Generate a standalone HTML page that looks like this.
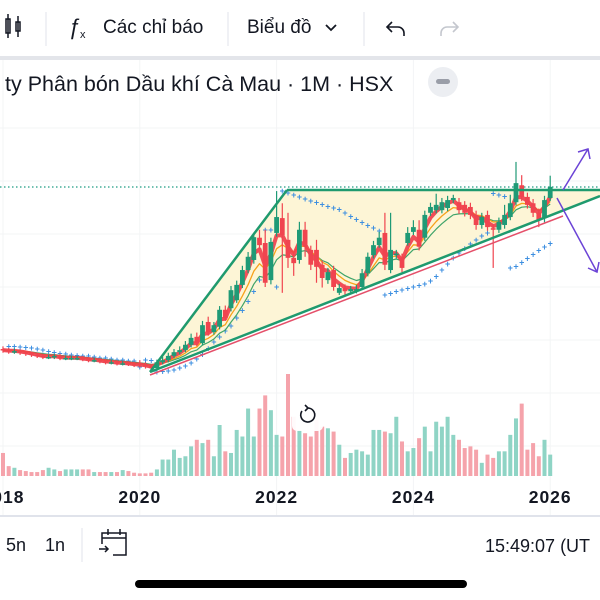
<!DOCTYPE html>
<html><head><meta charset="utf-8">
<style>
html,body{margin:0;padding:0;background:#fff;width:600px;height:600px;overflow:hidden}
svg{display:block}
text{font-family:"Liberation Sans",sans-serif}
</style></head>
<body>
<svg id="chart" width="600" height="600" viewBox="0 0 600 600">
<g id="grid"></g>
<polygon points="150,370 287,190 600,190 600,197" fill="#fdf5d6"/>
<line x1="0" y1="187" x2="600" y2="187" stroke="#1e9c82" stroke-width="1.2" stroke-dasharray="1.5,2.5"/>
<g id="vol"></g>
<g id="sar"></g>
<g id="ma"></g>
<g id="candles"></g>
<line x1="150" y1="375" x2="563" y2="216" stroke="#e5506a" stroke-width="1.5"/>
<line x1="150" y1="372" x2="287" y2="190" stroke="#1f9a6e" stroke-width="2.5"/>
<line x1="287" y1="190" x2="600" y2="190" stroke="#1f9a6e" stroke-width="2.5"/>
<line x1="150" y1="372" x2="600" y2="196" stroke="#1f9a6e" stroke-width="2.5"/>
<g stroke="#6b43d6" stroke-width="1.5" fill="none">
<line x1="563" y1="190" x2="588" y2="149"/><polyline points="578,152 588,149 590,159"/></g>
<g stroke="#6b43d6" stroke-width="1.5" fill="none">
<line x1="557" y1="198" x2="597" y2="272"/><polyline points="588,268 597,272 599,262"/></g>
<g>
<rect x="292" y="400" width="31" height="31" rx="5" fill="#fff" opacity="0.95"/>
<path d="M302 411 A7 7 0 1 0 308 408" fill="none" stroke="#131722" stroke-width="1.6"/>
<polyline points="305,405 308,408 305,411" fill="none" stroke="#131722" stroke-width="1.6"/></g>
<g id="xaxis"></g>
<line x1="0" y1="516" x2="600" y2="516" stroke="#e0e3eb" stroke-width="2"/>
<rect x="0" y="0" width="600" height="56" fill="#fff"/>
<rect x="0" y="56" width="600" height="4" fill="#e3e5ea"/>
<g stroke="#131722" stroke-width="1.5" fill="none">
<rect x="6" y="19" width="4" height="14"/><line x1="8" y1="14" x2="8" y2="38"/>
<rect x="16" y="22" width="4" height="9"/><line x1="18" y1="16" x2="18" y2="37"/></g>
<line x1="46" y1="12" x2="46" y2="46" stroke="#e0e3eb"/>
<g>
<text x="68" y="34" font-size="22" font-style="italic" fill="#131722" font-family="Liberation Serif, serif">ƒ</text>
<text x="80" y="38" font-size="11" fill="#131722">x</text>
<text x="103" y="33" font-size="19" fill="#131722">Các chỉ báo</text></g>
<line x1="228" y1="12" x2="228" y2="46" stroke="#e0e3eb"/>
<g>
<text x="247" y="33" font-size="19" fill="#131722">Biểu đồ</text>
<polyline points="326,25 331,30 336,25" fill="none" stroke="#131722" stroke-width="1.8"/></g>
<line x1="364" y1="12" x2="364" y2="46" stroke="#e0e3eb"/>
<g fill="none" stroke="#131722" stroke-width="1.6">
<path d="M388 27 H398 A6 6 0 0 1 404 33 V36"/><polyline points="392,22 387,27 392,32"/></g>
<g fill="none" stroke="#c4c7ce" stroke-width="1.6">
<path d="M457 27 H447 A6 6 0 0 0 441 33 V36"/><polyline points="453,22 458,27 453,32"/></g>
<text x="5" y="91" font-size="21.5" fill="#131722">ty Phân bón Dầu khí Cà Mau · 1M · HSX</text>
<g>
<circle cx="443" cy="82" r="15" fill="#eceef2"/><rect x="436" y="79" width="14" height="5" rx="2.5" fill="#9a9ea8"/></g>
<text x="6" y="551" font-size="18" fill="#131722">5n</text>
<text x="45" y="551" font-size="18" fill="#131722">1n</text>
<line x1="82" y1="528" x2="82" y2="562" stroke="#e0e3eb"/>
<g fill="none" stroke="#131722" stroke-width="1.5">
<path d="M102 544 V533 H126 V555 H113"/><line x1="102" y1="538" x2="126" y2="538"/>
<line x1="108" y1="529" x2="108" y2="535"/><line x1="120" y1="529" x2="120" y2="535"/>
<line x1="99" y1="549" x2="108" y2="549"/><polyline points="105,546 108,549 105,552"/></g>
<text x="485" y="552" font-size="18" fill="#131722">15:49:07 (UT</text>
<rect x="135" y="580" width="332" height="8" rx="4" fill="#000"/>
</svg>
<script>
const yearLabels = ['2018','2020','2022','2024','2026'];
const yearMonths = [0,24,48,72,96];
const priceTicks = [0,10,20,30,40,50,60];
const opens = [18.3,18.1,17.9,17.9,17.7,17.5,17.2,17.0,16.8,16.8,17.0,16.6,
16.6,16.6,16.6,16.4,16.2,16.2,16.0,15.8,15.8,15.6,15.6,15.5,
15.7,15.3,15.1,14.7,15.8,16.2,17.0,17.7,18.1,19.1,20.6,19.4,
23.4,21.5,22.5,25.7,26.0,27.5,30.4,33.2,35.1,39.3,38.3,31.3,
40.2,43.0,38.9,35.5,35.1,40.8,37.0,37.0,34.2,31.3,33.2,28.9,
29.8,29.2,29.4,30.0,32.6,36.0,37.9,40.2,33.2,36.0,35.5,38.3,
40.4,40.8,39.3,44.0,44.5,44.5,44.9,46.4,46.0,45.5,45.1,43.6,
41.7,43.6,41.1,40.8,41.7,43.2,46.0,49.2,47.0,45.8,44.0,43.0,
46.8];
const closes = [18.1,17.9,17.9,17.7,17.5,17.2,17.0,16.8,16.8,17.0,16.6,16.6,
16.6,16.6,16.4,16.2,16.2,16.0,15.8,15.8,15.6,15.6,15.5,15.3,
15.3,15.1,14.7,15.8,16.2,17.0,17.7,18.1,19.1,20.4,19.4,22.8,
21.5,22.8,25.7,24.2,29.4,30.4,33.2,35.7,39.4,37.9,30.8,38.5,
43.2,39.8,35.5,34.5,40.8,37.6,34.2,33.8,31.7,32.8,30.0,29.8,
29.2,29.6,29.6,32.6,35.7,37.9,39.3,34.2,37.0,36.3,33.6,40.2,
41.3,37.6,43.6,45.1,45.5,46.0,46.4,46.8,44.5,44.0,43.6,41.7,
43.2,41.3,40.8,42.3,43.6,45.8,49.6,47.0,45.5,44.0,42.6,46.4,
48.9];
const highs = [18.8,18.5,18.4,18.2,18.0,17.8,17.6,17.4,17.2,17.4,17.4,17.0,
17.0,17.0,17.0,16.8,16.6,16.6,16.4,16.2,16.2,16.0,16.0,15.9,
16.2,15.8,15.5,16.3,16.8,17.6,18.3,18.8,19.8,21.2,21.4,23.6,
24.4,23.4,26.4,26.5,30.2,31.2,34.0,36.6,40.2,40.8,40.8,39.3,
48.1,45.8,44.0,36.5,42.3,42.3,37.8,38.9,35.0,33.6,34.0,30.6,
30.5,30.2,30.4,33.4,36.5,38.7,40.4,44.0,44.0,37.0,36.3,41.3,
42.6,42.6,44.4,45.9,47.6,46.8,47.2,47.4,46.8,46.2,45.9,44.4,
44.0,44.4,41.8,43.1,45.5,47.4,53.6,51.1,47.8,46.6,44.8,47.2,
51.0];
const lows = [17.6,17.4,17.4,17.2,17.0,16.8,16.6,16.4,16.4,16.4,16.2,16.2,
16.2,16.2,16.0,15.8,15.8,15.6,15.4,15.4,15.2,15.2,15.1,14.9,
14.8,14.6,14.0,14.2,15.4,15.8,16.6,17.3,17.7,18.6,18.8,19.0,
20.8,21.0,22.0,23.6,25.4,27.0,29.8,32.6,34.4,37.2,30.0,30.5,
39.5,28.9,33.6,32.1,34.4,35.7,33.2,30.8,29.9,30.6,29.3,28.5,
28.6,28.8,28.8,29.5,32.0,35.4,37.4,33.2,32.6,35.4,32.8,37.8,
39.8,36.9,38.7,43.4,43.9,43.9,44.3,45.8,43.8,43.3,42.8,40.8,
41.0,40.6,33.6,40.2,41.0,42.6,45.4,46.2,44.8,43.2,41.3,42.2,
46.2];
const volumes = [70,30,25,18,15,12,12,18,25,20,15,20,
20,20,20,20,12,12,12,12,12,18,15,10,
8,8,10,20,50,50,80,55,60,90,110,100,
110,60,155,75,70,140,120,205,120,205,245,200,
125,120,310,180,140,130,120,170,150,145,135,95,
55,70,80,75,65,140,140,135,130,180,105,75,
85,115,150,75,165,150,180,125,110,85,90,80,
40,65,55,75,75,125,175,220,80,100,60,110,
65];

const NS='http://www.w3.org/2000/svg';
const xOf = i => 3 + 5.7*i;
const yOf = p => 446 - 5.3*p;
const vOf = v => 476 - v*102/310;
const GREEN='#1f9a76', RED='#f0444f', VG='#8fd4c5', VR='#f5a3ab';
function mk(tag, parent, attrs){const e=document.createElementNS(NS,tag);for(const k in attrs)e.setAttribute(k,attrs[k]);parent.appendChild(e);return e;}

const grid=document.getElementById('grid');
priceTicks.forEach(p=>{
  const l=mk('line',grid,{x1:0,x2:600,y1:yOf(p),y2:yOf(p),stroke:'#f3f4f6','stroke-width':1});
  
  
});
yearMonths.forEach(m=>{
  const l=mk('line',grid,{x1:xOf(m),x2:xOf(m),y1:60,y2:516,stroke:'#f3f4f6','stroke-width':1});
  
  
});

const vol=document.getElementById('vol');
volumes.forEach((v,i)=>{
  const up=closes[i]>=opens[i];
  const r=mk('rect',vol,{x:xOf(i)-2,y:vOf(v),width:4,height:476-vOf(v),fill:up?VG:VR});
  
  
});

const sarG=document.getElementById('sar');
(function(){
  let up=false, af=0.02, ep=lows[0], sar=highs[0];
  for(let i=1;i<closes.length;i++){
    sar = sar + af*(ep-sar);
    if(up){
      sar=Math.min(sar,lows[i-1]);
      if(lows[i]<sar){up=false;sar=ep;ep=lows[i];af=0.02;}
      else if(highs[i]>ep){ep=highs[i];af=Math.min(0.2,af+0.02);}
    } else {
      sar=Math.max(sar,highs[i-1]);
      if(highs[i]>sar){up=true;sar=ep;ep=highs[i];af=0.02;}
      else if(lows[i]<ep){ep=lows[i];af=Math.min(0.2,af+0.02);}
    }
    const x=xOf(i), y=yOf(sar);
    const t=mk('text',sarG,{x:x,y:y+3,'font-size':9,'font-weight':'bold',fill:'#3d8fe0','text-anchor':'middle'});
    t.textContent='+';
    
    
  }
})();

const maG=document.getElementById('ma');
function ema(n){const k=2/(n+1);let e=closes[0];return closes.map(c=>(e=e+k*(c-e)));}
[[9,'#3fa46a',1.2],[6,'#f7a21b',1.3],[3,'#ef3d4a',4]].forEach(([n,c,w])=>{
  const s=ema(n);
  const d=s.map((v,i)=>(i?'L':'M')+xOf(i).toFixed(1)+' '+yOf(v).toFixed(1)).join(' ');
  const p=mk('path',maG,{d:d,fill:'none',stroke:c,'stroke-width':w,'stroke-linejoin':'round',opacity:w>2?0.9:1});
  
  
});

const cg=document.getElementById('candles');
closes.forEach((c,i)=>{
  const o=opens[i], up=c>=o, col=up?GREEN:RED, x=xOf(i);
  const g=mk('g',cg,{});
  
  
  mk('line',g,{x1:x,x2:x,y1:yOf(highs[i]),y2:yOf(lows[i]),stroke:col,'stroke-width':1.2});
  const top=yOf(Math.max(o,c)), h=Math.max(1.5,Math.abs(yOf(o)-yOf(c)));
  mk('rect',g,{x:x-2.4,y:top,width:4.8,height:h,fill:col});
});

const xa=document.getElementById('xaxis');
yearLabels.forEach((lab,k)=>{
  const t=mk('text',xa,{x:xOf(yearMonths[k]),y:503,'text-anchor':'middle','font-size':17.5,'font-weight':'bold',fill:'#131722','letter-spacing':'1'});
  t.textContent=lab;
  
  
});
</script>
</body></html>
